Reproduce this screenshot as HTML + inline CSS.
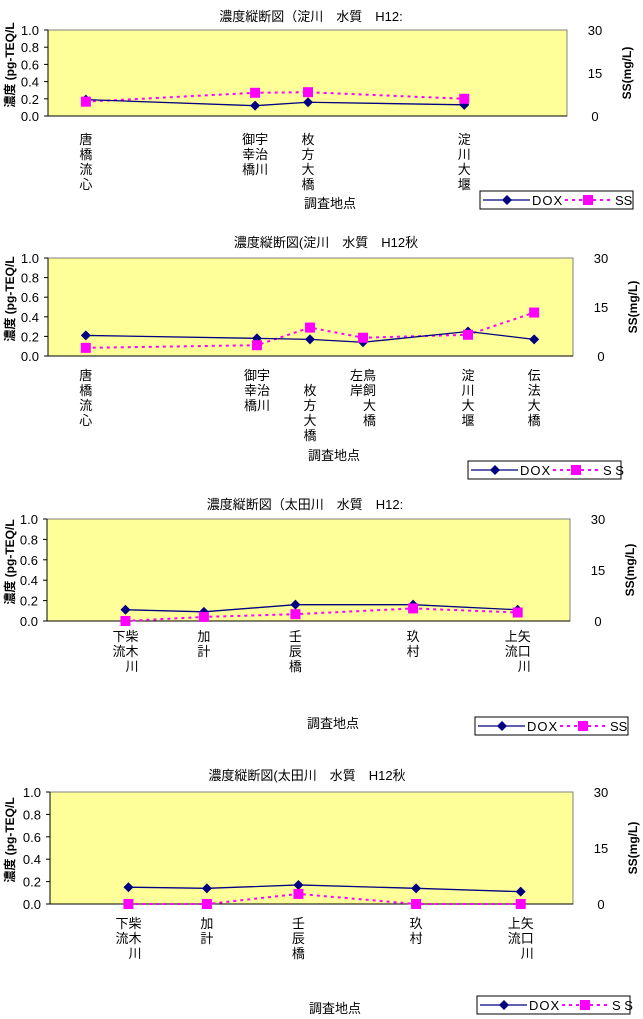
<!DOCTYPE html>
<html><head><meta charset="utf-8">
<style>
body{margin:0;background:#fff;}
svg{display:block;font-family:"Liberation Sans","Noto Sans CJK JP",sans-serif;}
</style></head>
<body>
<svg id="root" width="643" height="1019" viewBox="0 0 643 1019"></svg>
<script>
// ---- data ----
const c1Categories = [["唐","橋","流","心"],["御宇","幸治","橋川"],["枚","方","大","橋"],["淀","川","大","堰"]];
const c1Pos = [7.3, 39.9, 50.1, 80.2];
const c1Dox = [0.19, 0.12, 0.16, 0.13];
const c1Ss = [5.0, 8.1, 8.3, 6.0];

const c2Categories = [["唐","橋","流","心"],["御宇","幸治","橋川"],["","枚","方","大","橋"],["左鳥","岸飼","　大","　橋"],["淀","川","大","堰"],["伝","法","大","橋"]];
const c2Pos = [7.2, 39.8, 49.9, 60, 80, 92.6];
const c2Dox = [0.21, 0.18, 0.17, 0.14, 0.25, 0.17];
const c2Ss = [2.5, 3.3, 8.7, 5.6, 6.5, 13.3];

const c3Categories = [["下柴","流木","　川"],["加","計"],["壬","辰","橋"],["玖","村"],["上矢","流口","　川"]];
const c3Pos = [15, 30, 47.5, 70, 90];
const c3Dox = [0.11, 0.09, 0.16, 0.16, 0.11];
const c3Ss = [0, 1.2, 2.0, 3.7, 2.5];

const c4Categories = [["下柴","流木","　川"],["加","計"],["壬","辰","橋"],["玖","村"],["上矢","流口","　川"]];
const c4Pos = [15, 30, 47.5, 70, 90];
const c4Dox = [0.15, 0.14, 0.17, 0.14, 0.11];
const c4Ss = [0, 0, 2.7, 0, 0];

const leftTicks = ["0.0","0.2","0.4","0.6","0.8","1.0"];
const rightTicks = ["0","15","30"];

const NS="http://www.w3.org/2000/svg";
const root=document.getElementById('root');
function mk(tag,attrs,parent,text){
  const e=document.createElementNS(NS,tag);
  for(const k in attrs) e.setAttribute(k,attrs[k]);
  if(text!==undefined) e.textContent=text;
  (parent||root).appendChild(e);
  return e;
}

function chart(cfg){
  const g=mk('g',{});
  
  
  const L=cfg.L,R=cfg.R,T=cfg.T,B=cfg.B;
  const xs=v=>L+(R-L)*v/100;
  const yl=v=>B-(B-T)*v/1.0;
  const yr=v=>B-(B-T)*v/30;
  const t=mk('text',{x:cfg.titleX,y:cfg.titleY,'font-size':13,'text-anchor':'middle',fill:'#000'},g,cfg.title);
  
  
  const pa=mk('rect',{x:L,y:T,width:R-L,height:B-T,fill:'#ffff99',stroke:'#808080','stroke-width':1},g);
  
  
  mk('line',{x1:L,y1:T,x2:L,y2:B,stroke:'#000'},g);
  mk('line',{x1:L,y1:B,x2:R,y2:B,stroke:'#000'},g);
  leftTicks.forEach(s=>{
    const v=parseFloat(s);
    mk('line',{x1:L-4,y1:yl(v),x2:L,y2:yl(v),stroke:'#000'},g);
    const tx=mk('text',{x:L-9,y:yl(v)+5,'font-size':13,'text-anchor':'end',fill:'#000'},g,s);
    
    
  });
  rightTicks.forEach(s=>{
    const v=parseFloat(s);
    const tx=mk('text',{x:R+28,y:yr(v)+5,'font-size':13,'text-anchor':'middle',fill:'#000'},g,s);
    
    
  });
  const cy=(T+B)/2;
  const lt=mk('text',{x:0,y:0,'font-size':12,'font-weight':'bold','text-anchor':'middle',transform:`translate(14,${cy-8}) rotate(-90)`},g,'濃度 (pg-TEQ/L');
  
  
  const rt=mk('text',{x:0,y:0,'font-size':12,'font-weight':'bold','text-anchor':'middle',transform:`translate(${R+64},${cy}) rotate(-90)`},g,'SS(mg/L)');
  
  
  // category labels
  cfg.cats.forEach((rows,i)=>{
    const x=xs(cfg.pos[i]);
    rows.forEach((r,j)=>{
      const tx=mk('text',{x:x,y:cfg.labelY+j*15+5,'font-size':13,'text-anchor':'middle',fill:'#000'},g,r);
      
      
    });
  });
  const xt=mk('text',{x:cfg.xtX,y:cfg.xtY+5,'font-size':13,'text-anchor':'middle'},g,'調査地点');
  
  
  // SS series
  const ssPts=cfg.ss.map((v,i)=>xs(cfg.pos[i])+','+yr(v)).join(' ');
  const sl=mk('polyline',{points:ssPts,fill:'none',stroke:'#ff00ff','stroke-width':2,'stroke-dasharray':'3 4'},g);
  
  
  // DOX series
  const dPts=cfg.dox.map((v,i)=>xs(cfg.pos[i])+','+yl(v)).join(' ');
  const dl=mk('polyline',{points:dPts,fill:'none',stroke:'#000080','stroke-width':1.3},g);
  
  
  cfg.dox.forEach((v,i)=>{
    const x=xs(cfg.pos[i]),y=yl(v);
    const p=mk('polygon',{points:`${x},${y-5} ${x+5},${y} ${x},${y+5} ${x-5},${y}`,fill:'#000080'},g);
    
    
  });
  cfg.ss.forEach((v,i)=>{
    const x=xs(cfg.pos[i]),y=yr(v);
    const p=mk('rect',{x:x-5,y:y-5,width:10,height:10,fill:'#ff00ff'},g);
    
    
  });
  // legend
  const lx=cfg.legX, ly=cfg.legY;
  const lg=mk('g',{},g);
  
  
  mk('rect',{x:lx,y:ly,width:153,height:18,fill:'#fff',stroke:'#000'},lg);
  const m=ly+9;
  mk('line',{x1:lx+3,y1:m,x2:lx+50,y2:m,stroke:'#000080','stroke-width':1.3},lg);
  mk('polygon',{points:`${lx+27},${m-5} ${lx+32},${m} ${lx+27},${m+5} ${lx+22},${m}`,fill:'#000080'},lg);
  mk('text',{x:lx+52,y:m+5,'font-size':13,'letter-spacing':'1'},lg,'DOX');
  mk('line',{x1:lx+85,y1:m,x2:lx+133,y2:m,stroke:'#ff00ff','stroke-width':2,'stroke-dasharray':'3 4'},lg);
  mk('rect',{x:lx+103,y:m-5,width:10,height:10,fill:'#ff00ff'},lg);
  mk('text',{x:lx+135,y:m+5,'font-size':13},lg,cfg.ssLabel);
}

chart({id:'chart-yodo-summer',title:'濃度縦断図（淀川　水質　H12:',titleX:311,titleY:21,L:48,R:567,T:30,B:116,
  cats:c1Categories,pos:c1Pos,dox:c1Dox,ss:c1Ss,labelY:139,xtX:330,xtY:203,legX:480,legY:191,ssLabel:'SS'});
chart({id:'chart-yodo-autumn',title:'濃度縦断図(淀川　水質　H12秋',titleX:326,titleY:247,L:48,R:573,T:258,B:356,
  cats:c2Categories,pos:c2Pos,dox:c2Dox,ss:c2Ss,labelY:375,xtX:334,xtY:455,legX:468,legY:461,ssLabel:'S S'});
chart({id:'chart-ota-summer',title:'濃度縦断図（太田川　水質　H12:',titleX:305,titleY:509,L:47,R:570,T:519,B:621,
  cats:c3Categories,pos:c3Pos,dox:c3Dox,ss:c3Ss,labelY:636,xtX:333,xtY:723,legX:475,legY:717,ssLabel:'SS'});
chart({id:'chart-ota-autumn',title:'濃度縦断図(太田川　水質　H12秋',titleX:307,titleY:780,L:50,R:573,T:792,B:904,
  cats:c4Categories,pos:c4Pos,dox:c4Dox,ss:c4Ss,labelY:923,xtX:335,xtY:1008,legX:477,legY:996,ssLabel:'S S'});
</script>
</body></html>
